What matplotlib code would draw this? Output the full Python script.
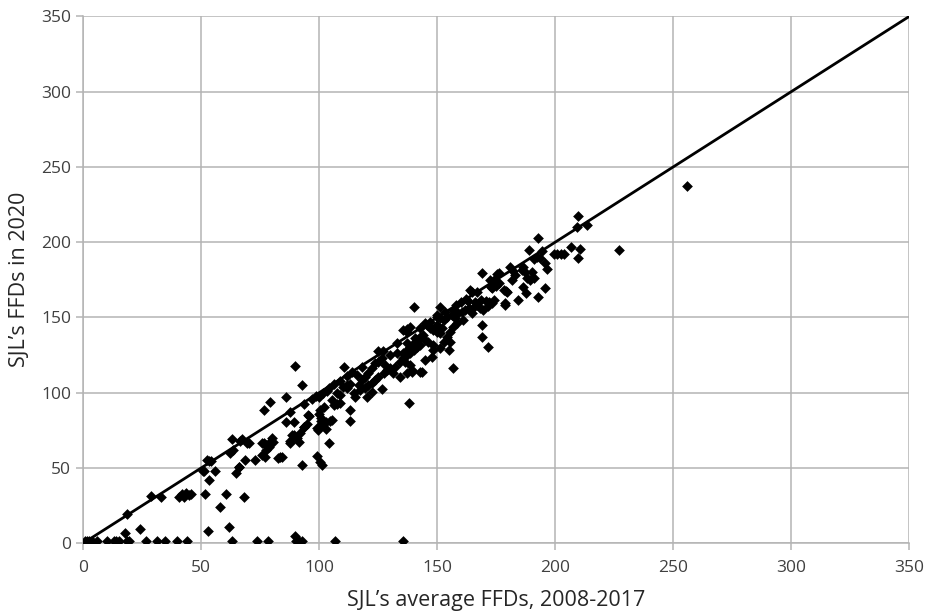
import matplotlib
matplotlib.use("Agg")
import matplotlib.pyplot as plt

# SJL's average FFDs 2008-2017 (x) vs FFDs in 2020 (y)
avg_ffd = [
    0.7, 1.7, 2.7, 3.8, 5.9, 10.2, 13, 14, 15.1, 18.6, 19.7, 26.7, 31.3, 34.8, 39.8, 44.1,
    63.1, 73.9, 78.2, 89.6, 90.3, 91.3, 92.7, 106.8, 135.6,
    17.9, 24, 18.6, 28.9, 33, 40.5, 41.8, 42.8, 43.8, 45, 45.8, 52.9, 51.8, 58.1, 60.7,
    68, 61.9, 51.4, 53.2, 54.3, 56, 53.2, 63.1, 62.4, 63.4, 67.3, 69.4, 68.7, 66.2, 64.9,
    72.9, 76.8, 79.3, 76.8, 75.8, 77.5, 79, 80, 83.5, 84.3, 86, 87.7, 89.2, 87.7, 89.5,
    90.5, 92, 92.7, 93.6, 94.9, 95.5, 89.6, 92.7, 86.1, 93.8, 95.9, 97, 98.5, 100, 101.5,
    103.3, 100, 101, 100.5, 102, 103, 101, 88.5, 91.3, 87.8, 66.6, 70.1, 52.5, 77.2, 82.8,
    65.9, 51, 99.1, 100.5, 101.2, 104, 110.6, 80.4, 78.6, 77.6, 75.8,
    106.1, 105.4, 107.5, 108.9, 111.8, 111.8, 115.3, 114.6, 116.7, 118.1, 119.5, 120.9,
    122.3, 123.8, 125.1, 126.6, 117.4, 119.5, 120.9, 122.3, 123.8, 125.1, 127.3, 128.7,
    130.1, 132.2, 134.3, 135.7, 137.2, 138.6, 140, 141.4, 142.8, 144.9, 140.7, 137.2,
    132.9, 130.1, 127.9, 131.5, 134.3, 137.2, 139.3, 142.8, 126.8, 120.1, 122.3, 125.1,
    127, 132.9, 137.2, 137.9, 112.9, 112.9, 106.1, 107.5, 108.9, 100.4, 101.9, 93.5,
    101.2, 103, 104.5, 105.4, 99, 99.7, 104, 109, 112, 114, 116, 118, 113, 110,
    140, 151, 135.7, 138.6, 137.2, 142.8, 144.9, 145.6, 147, 148.4, 149.9, 151.3, 144.2,
    142.8, 141.4, 140, 138.6, 137.2, 135.7, 136.5, 138.6, 144.9, 147.8, 148.4, 152.7,
    154.1, 155.5, 151.3, 139.3, 143.5, 140.7, 146.3, 148.4, 149.9, 151.3, 152.7, 154.1,
    156.2, 157.6, 159, 160.5, 161.9, 163.3, 165.4, 166.8, 168.2, 169.6, 171.7, 173.2,
    158.3, 161.1, 164.7, 156.9, 155.5, 168.9, 168.9, 171.7, 154.8, 156.6, 153.4, 156.9,
    164, 164.7, 166.8, 163, 166, 168.5, 170.5, 172, 174, 168.9, 175.3, 181.6, 184.4,
    179.5, 178.8, 173, 174, 176, 175, 172.4, 178.1, 186.5, 188, 186.5, 185.8, 187.3,
    190.1, 190.8, 189.4, 180.9, 176, 179, 187.7, 195.7, 192.9, 174.6, 173.2, 178.8,
    192.9, 188.7, 194.3, 199.3, 200.8, 202.3, 203.8, 206.6, 210.5, 209.8, 226.8, 190.8,
    192.2, 193.6, 195.7, 196.7, 209.8, 209.4, 213.6, 256,
    150, 152, 147, 150, 158, 160, 162, 183, 182,
]
ffd_2020 = [
    1.7, 1.7, 1.7, 1.7, 1.7, 1.7, 1.7, 1.7, 1.7, 1.7, 1.7, 1.7, 1.7, 1.7, 1.7, 1.7,
    1.7, 1.7, 1.7, 4.8, 1.7, 1.7, 1.7, 1.7, 1.7,
    7.0, 9.5, 19.3, 31.6, 30.5, 31, 33, 30.5, 33.5, 31.8, 33, 8.2, 32.7, 24.3, 32.7,
    31, 10.6, 48.2, 54.6, 55, 48, 42, 69, 60.2, 62, 69, 66.8, 55.3, 50.9, 46.9,
    55.3, 88.5, 94, 66.4, 58.6, 65, 67, 70, 57.1, 57, 80.7, 87.4, 80.7, 68, 72,
    70, 73, 52, 77, 79, 85.2, 117.7, 105, 97.3, 92.5, 84.5, 96, 98, 97, 100,
    101, 86, 83, 78, 80, 76, 81, 71.9, 67.5, 66.4, 68, 66.4, 55.3, 57.5, 56.4,
    50.5, 48.2, 58, 54.2, 52, 66.4, 116.9, 67.5, 64.1, 62, 66.8,
    105.8, 95.2, 99.6, 98.5, 105, 102.9, 97.3, 99.6, 105.1, 108.4, 110.6, 112.9,
    116.2, 119.5, 120.6, 122.8, 101.8, 102.9, 105.1, 106.2, 108.4, 110.6, 112.9, 115.1,
    116.2, 117.3, 120.6, 122.8, 125, 126.2, 128.4, 130.5, 131.7, 135, 136.1, 132.8,
    126.2, 125, 118.4, 112.9, 110.6, 112.9, 115.1, 113.9, 102.2, 97.3, 100.6, 127.9,
    128, 133.2, 140.5, 93, 88.5, 81.4, 92, 92.5, 93, 88.5, 90.7, 77,
    79.6, 80.5, 81, 81.9, 76.5, 75.4, 103, 108, 111, 114, 112, 117, 106, 104,
    156.7, 156.7, 141.6, 143.8, 142.2, 142.8, 146.1, 145, 142.8, 141.6, 140.5, 139.4, 138.3,
    137.2, 135, 132.8, 130.5, 128.4, 126.2, 120.6, 118.4, 121.7, 123.9, 128.4, 133.9,
    137.2, 133.9, 129.5, 113.9, 113.9, 131.7, 133.9, 131.7, 151.6, 149.4, 148.3, 150.5,
    151.6, 149.4, 152.7, 153.8, 154.9, 156, 157.1, 158.2, 156, 154.9, 157.6, 159.4,
    146.1, 148.3, 152.7, 143.4, 140.5, 145, 137.2, 130.5, 128.4, 116.2, 153.8, 154.9,
    168.2, 167, 167, 161, 160, 161.5, 161, 160.5, 161.6, 179.7, 178.8, 174.8, 161.6,
    167.1, 159.8, 170, 175, 173, 171, 174.8, 168.2, 170.4, 176, 183.7, 181.5, 180.3,
    180.3, 176, 174.8, 183.7, 179.3, 167.5, 166, 169.3, 163.8, 173.7, 169.3, 158.2,
    202.5, 194.8, 194.3, 191.9, 191.9, 191.9, 191.9, 196.5, 195.2, 189.6, 194.8, 188.6,
    189.9, 189.2, 186.3, 181.9, 217.3, 209.8, 211.4, 237.5,
    145, 143, 147, 150, 158, 160, 162, 178, 181,
]

ticks = [0, 50, 100, 150, 200, 250, 300, 350]
grid_col = "#b4b4b4"

plt.rcParams["font.family"] = ["Open Sans", "DejaVu Sans"]

fig = plt.figure(figsize=(9.25, 6.14), dpi=100)
ax = fig.add_axes([0.0897, 0.1151, 0.8935, 0.8584])

ax.plot([0, 350], [0, 350], color="black", linewidth=2, zorder=2)
ax.scatter(avg_ffd, ffd_2020, marker="D", s=30, color="black", linewidths=0, zorder=3)

ax.set_xlim(0, 350)
ax.set_ylim(0, 350)
ax.set_xticks(ticks)
ax.set_yticks(ticks)
ax.grid(True, color=grid_col, linewidth=1.1, zorder=0)
ax.set_axisbelow(True)
for side in ["top", "right"]:
    ax.spines[side].set_visible(False)
for side in ["left", "bottom"]:
    ax.spines[side].set_color(grid_col)
    ax.spines[side].set_linewidth(1.1)
ax.tick_params(colors=grid_col, length=5, width=1.1, labelcolor="#404040", labelsize=12.5)
ax.tick_params(axis="x", pad=7)

ax.set_xlabel("SJL\u2019s average FFDs, 2008-2017", fontsize=15.5, color="#262626", labelpad=10)
ax.set_ylabel("SJL\u2019s FFDs in 2020", fontsize=15.5, color="#262626", labelpad=8)

fig.savefig("out.png", dpi=100)
